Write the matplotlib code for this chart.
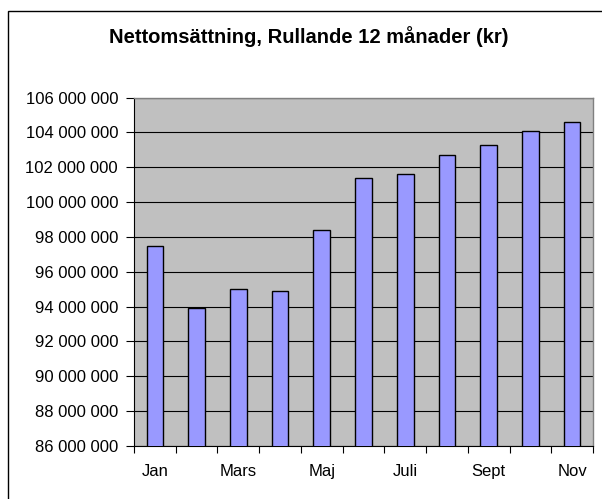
import matplotlib
matplotlib.use("Agg")
import matplotlib.pyplot as plt
from matplotlib.ticker import FuncFormatter, FixedLocator
from matplotlib.patches import Rectangle

months = ["Jan", "Feb", "Mars", "April", "Maj", "Juni", "Juli", "Aug", "Sept", "Okt", "Nov"]
values = [97.5e6, 93.9e6, 95.0e6, 94.9e6, 98.4e6, 101.4e6, 101.6e6, 102.7e6, 103.3e6, 104.1e6, 104.6e6]
title = "Nettomsättning, Rullande 12 månader (kr)"
y_min, y_max, y_step = 86e6, 106e6, 2e6

plt.rcParams['font.family'] = ['Liberation Sans', 'DejaVu Sans']

fig = plt.figure(figsize=(6.02, 4.99), dpi=100)
fig.patch.set_facecolor("white")
# outer chart border
fig.patches.append(Rectangle((8 / 602, -0.01), 1.0, 1 - 10.5 / 499 + 0.01, transform=fig.transFigure,
                             fill=False, edgecolor="black", linewidth=1.0))

ax = fig.add_axes([134 / 602, (499 - 446) / 499, (593 - 134) / 602, (446 - 97.5) / 499])
ax.set_facecolor("#C0C0C0")
x = list(range(len(months)))
ax.bar(x, values, width=0.4, color="#9999FF", edgecolor="black", linewidth=1.0, zorder=3)

ax.set_xlim(-0.5, len(months) - 0.5)
ax.set_ylim(y_min, y_max)
yt = [y_min + i * y_step for i in range(int((y_max - y_min) / y_step) + 1)]
ax.set_yticks(yt)
ax.yaxis.set_major_formatter(FuncFormatter(lambda v, p: f"{int(round(v)):,}".replace(",", " ")))
ax.grid(axis="y", color="black", linewidth=0.8, zorder=1)
ax.set_axisbelow(True)

ax.set_xticks(x[::2])
ax.set_xticklabels(months[::2])
ax.xaxis.set_minor_locator(FixedLocator([i - 0.5 for i in range(len(months) + 1)]))
ax.tick_params(axis="x", which="major", length=0, pad=13, labelsize=12)
ax.tick_params(axis="x", which="minor", length=5, width=0.8, direction="out")
ax.tick_params(axis="y", length=5.5, width=0.8, direction="out", labelsize=12, pad=6)

for s in ["top", "right"]:
    ax.spines[s].set_color("#808080")
    ax.spines[s].set_linewidth(1.0)
for s in ["left", "bottom"]:
    ax.spines[s].set_color("black")
    ax.spines[s].set_linewidth(0.8)

fig.text(309 / 602, 1 - 43.3 / 499, title, ha="center", va="baseline", fontsize=14.5, fontweight="bold")

fig.savefig("out.png", dpi=100)
